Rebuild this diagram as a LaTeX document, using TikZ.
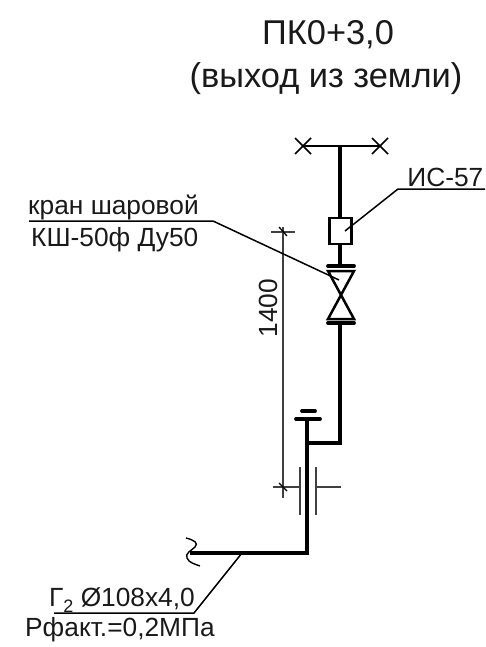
\documentclass[tikz,border=0pt]{standalone}
\usepackage{fontspec}
\setmainfont{Liberation Sans}
\tikzset{
  pipe/.style={line width=4.6pt,line cap=butt,line join=miter},
  flange/.style={line width=3.8pt,line cap=round},
  thinl/.style={line width=1.4pt,draw=black!75},
  leader/.style={line width=1.5pt,line join=miter},
  equip/.style={line width=2.5pt,line join=miter},
  lbl/.style={inner sep=0pt,anchor=base,font=\fontsize{26.3}{26.3}\selectfont,text=black!90},
  ttl/.style={inner sep=0pt,anchor=base,font=\fontsize{34.4}{34.4}\selectfont,text=black!90},
}
\begin{document}
\begin{tikzpicture}[x=1pt,y=-1pt]
\useasboundingbox (0,0) rectangle (485,647);
% titles
\node[ttl] (t1) at (328,45) {ПК0+3,0};
\node[ttl] (t2) at (326,88) {(выход из земли)};
% coordinates
\coordinate (teeL) at (303,146);
\coordinate (teeR) at (380,146);
\coordinate (teeC) at (340,146);
\node[draw,equip,rectangle,inner sep=0pt,minimum width=22pt,minimum height=26pt] (meter) at (340.5,231) {};
\coordinate (fT) at (340,266);
\coordinate (fB) at (340,323);
\coordinate (el1) at (340,443);
\coordinate (el2) at (307,443);
\coordinate (stT) at (307,419);
\coordinate (elb) at (307,553);
\coordinate (pipeL) at (190,553);
% crossbar
\draw[line width=1.5pt] (teeL) -- (teeR);
\foreach \c in {teeL,teeR}{
  \draw[line width=1.5pt] ([shift={(-8,-8)}]\c) -- ([shift={(8,8)}]\c);
  \draw[line width=1.5pt] ([shift={(-8,8)}]\c) -- ([shift={(8,-8)}]\c);
}
% pipes
\draw[pipe] (teeC) -- (teeC |- meter.north);
\draw[pipe] (teeC |- meter.south) -- (fT);
\draw[pipe] (fB) -- (el1) -- (el2);
\draw[pipe] (stT) -- (elb) -- (pipeL);
% valve
\draw[flange] (328,266) -- (354,266);
\draw[flange] (328,323) -- (354,323);
\draw[equip] (328,271) -- (354,271) -- (328,319) -- (354,319) -- cycle;
% stem flanges
\draw[flange] (296,419) -- (320,419);
\draw[flange] (302,411) -- (315,411);
% sleeve
\draw[thinl] (300,467) -- (300,515);
\draw[thinl] (316,467) -- (316,515);
\draw[thinl] (273,487) -- (300,487);
\draw[thinl] (316,487) -- (341,487);
% dimension
\draw[thinl] (283,227) -- (283,498);
\draw[thinl] (271,232) -- (295,232);
\draw[line width=1.3pt] (279,227) -- (287,236);
\draw[line width=1.3pt] (279,483) -- (287,491);
\node[lbl,rotate=90] (dim) at (277,308) {1400};
% break
\draw[line width=1.4pt] (186,538) .. controls (194,540) and (199,543) .. (195,547) .. controls (191,551) and (185,553) .. (187,558) .. controls (189,563) and (195,564) .. (200,566);
% leaders
\draw[leader] (345,231) -- (398,189) -- (485,189);
\draw[leader] (339,280) -- (213,221) -- (29,221);
\draw[leader] (242,553) -- (194,613) -- (54,613);
% labels
\node[lbl,anchor=base east] (a) at (483.5,186) {ИС-57};
\node[lbl,anchor=base west] (b) at (28,214) {кран шаровой};
\node[lbl,anchor=base west] (c) at (31,246) {КШ-50ф Ду50};
\node[lbl,anchor=base west] (d) at (49,606) {Г\raisebox{-6pt}{\fontsize{18}{18}\selectfont 2} Ø108x4,0};
\node[lbl,anchor=base west] (e) at (25,636) {Рфакт.=0,2МПа};
\end{tikzpicture}
\end{document}
